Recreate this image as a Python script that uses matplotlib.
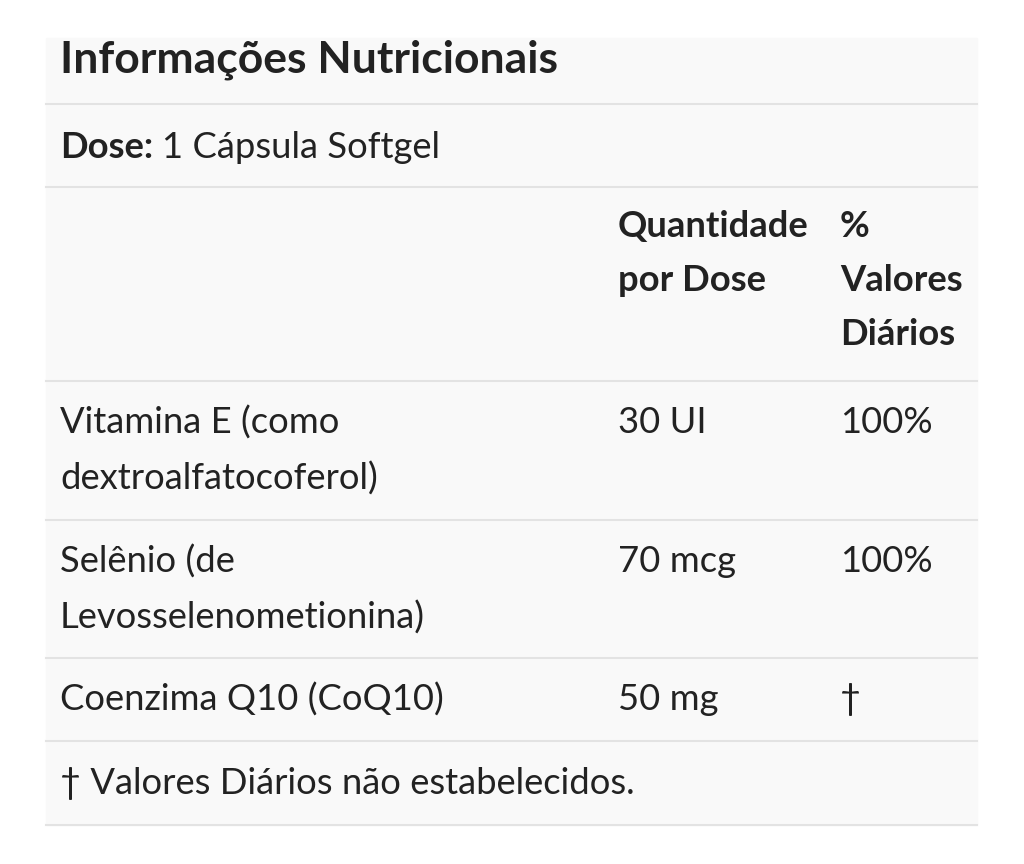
import matplotlib.pyplot as plt

title = "Informações Nutricionais"
dose_label = "Dose:"
dose_value = "1 Cápsula Softgel"
col_headers = ["Quantidade\npor Dose", "%\nValores\nDiários"]
nutrients = ["Vitamina E (como\ndextroalfatocoferol)", "Selênio (de\nLevosselenometionina)", "Coenzima Q10 (CoQ10)"]
amounts = ["30 UI", "70 mcg", "50 mg"]
daily_values = ["100%", "100%", "†"]
footnote = "† Valores Diários não estabelecidos."

plt.rcParams['font.family'] = ['Lato', 'DejaVu Sans']
fig = plt.figure(figsize=(10.24, 8.64), dpi=100)
ax = fig.add_axes([0, 0, 1, 1])
ax.set_xlim(0, 1024)
ax.set_ylim(864, 0)
ax.axis("off")

ax.add_patch(plt.Rectangle((46, 38), 931, 787, color="#f9f9f9", zorder=0))
for y in [104, 187, 381, 520, 658, 741, 825]:
    ax.plot([46, 977], [y, y], color="#e3e3e3", lw=1.5)

fs = 26.2
ls = 1.78
txt = "#222222"
ax.text(60, 60, title, fontsize=32, fontweight="bold", va="center", color=txt)
ax.text(60, 148, dose_label, fontsize=fs, fontweight="bold", va="center", color=txt)
ax.text(162, 148, dose_value, fontsize=fs, va="center", color=txt)

ax.text(618, 210, col_headers[0], fontsize=fs, fontweight="bold", va="top", color=txt, linespacing=ls)
ax.text(840, 210, col_headers[1], fontsize=fs, fontweight="bold", va="top", color=txt, linespacing=ls)

row_tops = [406, 545, 683]
for y, n, a, d in zip(row_tops, nutrients, amounts, daily_values):
    ax.text(60, y, n, fontsize=fs, va="top", color=txt, linespacing=ls)
    ax.text(618, y, a, fontsize=fs, va="top", color=txt)
    ax.text(840, y, d, fontsize=fs, va="top", color=txt)

ax.text(60, 784, footnote, fontsize=fs, va="center", color=txt)

fig.savefig("out.png", dpi=100, facecolor="white")
